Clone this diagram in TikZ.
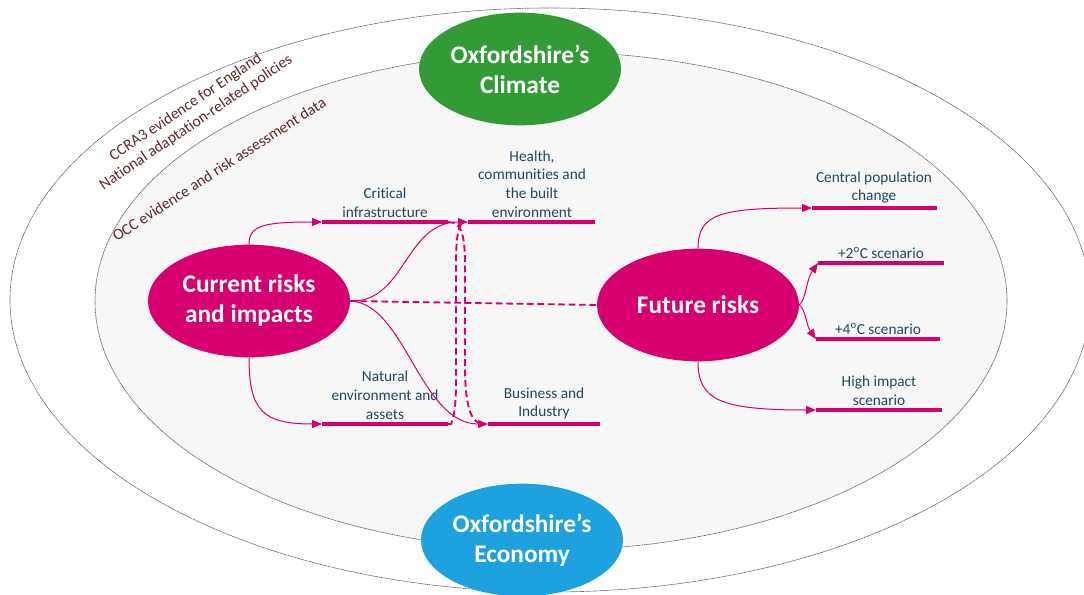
\documentclass[tikz,border=0pt]{standalone}
\usepackage{fontspec}
\setmainfont{Carlito}[Ligatures={NoCommon}]
\usetikzlibrary{arrows.meta,shapes.geometric}
\definecolor{mag}{RGB}{214,0,111}
\definecolor{grn}{RGB}{51,155,54}
\definecolor{blu}{RGB}{30,161,223}
\definecolor{lbl}{RGB}{31,73,96}
\definecolor{brn}{RGB}{92,42,42}
\begin{document}
\begin{tikzpicture}[x=0.75pt,y=-0.75pt,
  bgline/.style={draw=black!65,line width=0.45pt,dash pattern=on 0.9pt off 0.4pt},
  ell/.style={ellipse,minimum width=151.5pt,minimum height=84.5pt,inner sep=0pt,
    text=white,align=center,font=\bfseries\fontsize{19}{22.5}\selectfont},
  bar/.style={draw=mag,line width=3pt},
  conn/.style={draw=mag,line width=0.75pt,-{Triangle[length=7.5pt,width=6pt]}},
  dconn/.style={draw=mag,line width=1.4pt,dash pattern=on 5pt off 2.8pt},
  lab/.style={text=lbl,align=center,inner sep=1pt,anchor=south,
    font=\fontsize{11.5}{14}\selectfont},
  side/.style={text=brn,align=center,inner sep=0pt,
    font=\fontsize{11.8}{13.8}\selectfont}]
\useasboundingbox (0,0) rectangle (1084,595);
\clip (0,0) rectangle (1084,595);
% background ellipses
\draw[bgline,fill=white] (550,300) ellipse [x radius=540,y radius=292];
\draw[bgline,fill=black!3] (551,301) ellipse [x radius=456,y radius=249];
% side texts
\node[side,rotate=34] (natl) at (191,115) {CCRA3 evidence for England\\National adaptation-related policies};
\node[side,rotate=33] (occ) at (219,169) {OCC evidence and risk assessment data};
% main ellipses
\node[ell,fill=grn] (clim) at (520,69) {Oxfordshire’s\\Climate};
\node[ell,fill=blu] (econ) at (522,540) {Oxfordshire’s\\Economy};
\node[ell,fill=mag] (cur) at (249,301) {Current risks\\and impacts};
\node[ell,fill=mag] (fut) at (698,305) {Future risks};
% bar coordinates
\coordinate (ci1) at (322,222); \coordinate (ci2) at (448,222);
\coordinate (he1) at (468,222); \coordinate (he2) at (595,222);
\coordinate (ne1) at (322,424); \coordinate (ne2) at (448,424);
\coordinate (bi1) at (488,424); \coordinate (bi2) at (600,424);
\coordinate (cp1) at (812,208); \coordinate (cp2) at (937,208);
\coordinate (ta1) at (818,263); \coordinate (ta2) at (944,263);
\coordinate (tb1) at (816,339); \coordinate (tb2) at (940,339);
\coordinate (hi1) at (816,410); \coordinate (hi2) at (942,410);
% bars
\draw[bar] (ci1) -- (ci2);
\draw[bar] (he1) -- (he2);
\draw[bar] (ne1) -- (ne2);
\draw[bar] (bi1) -- (bi2);
\draw[bar] (cp1) -- (cp2);
\draw[bar] (ta1) -- (ta2);
\draw[bar] (tb1) -- (tb2);
\draw[bar] (hi1) -- (hi2);
% labels
\node[lab] (lci) at (385,219) {Critical\\infrastructure};
\node[lab] (lhe) at (532,219) {Health,\\communities and\\the built\\environment};
\node[lab] (lne) at (385,421) {Natural\\environment and\\assets};
\node[lab] (lbi) at (544,421) {Business and\\Industry};
\node[lab] (lcp) at (874,205) {Central population\\change};
\node[lab] (lta) at (881,260) {+2\textsuperscript{o}C scenario};
\node[lab] (ltb) at (878,336) {+4\textsuperscript{o}C scenario};
\node[lab] (lhi) at (879,407) {High impact\\scenario};
% dashed connectors
\draw[dconn] (cur.east) -- (fut.west);
\draw[dconn] (ci2) .. controls (462,222) and (465,236) .. (465,266) -- (465,366)
  .. controls (465,410) and (472,424) .. (484,424);
\draw[dconn] (ne2) -- (451,424) .. controls (456,412) and (456,395) .. (456,372) -- (456,262)
  .. controls (456,236) and (459,224) .. (463,222);
% solid connectors
\draw[conn] (cur.north) .. controls (249,226) and (262,222) .. (ci1);
\draw[conn] (cur.south) .. controls (249,410) and (262,424) .. (ne1);
\draw[conn] (cur.east) .. controls (405,303) and (405,222) .. (he1);
\draw[conn] (cur.east) .. controls (405,303) and (420,424) .. (bi1);
\draw[conn] (fut.north) .. controls (698,214) and (720,208) .. (cp1);
\draw[conn] (fut.south) .. controls (698,400) and (720,410) .. (hi1);
\draw[conn] (fut.east) .. controls (806,300) and (806,280) .. (ta1);
\draw[conn] (fut.east) .. controls (806,310) and (806,325) .. (tb1);
\end{tikzpicture}
\end{document}
